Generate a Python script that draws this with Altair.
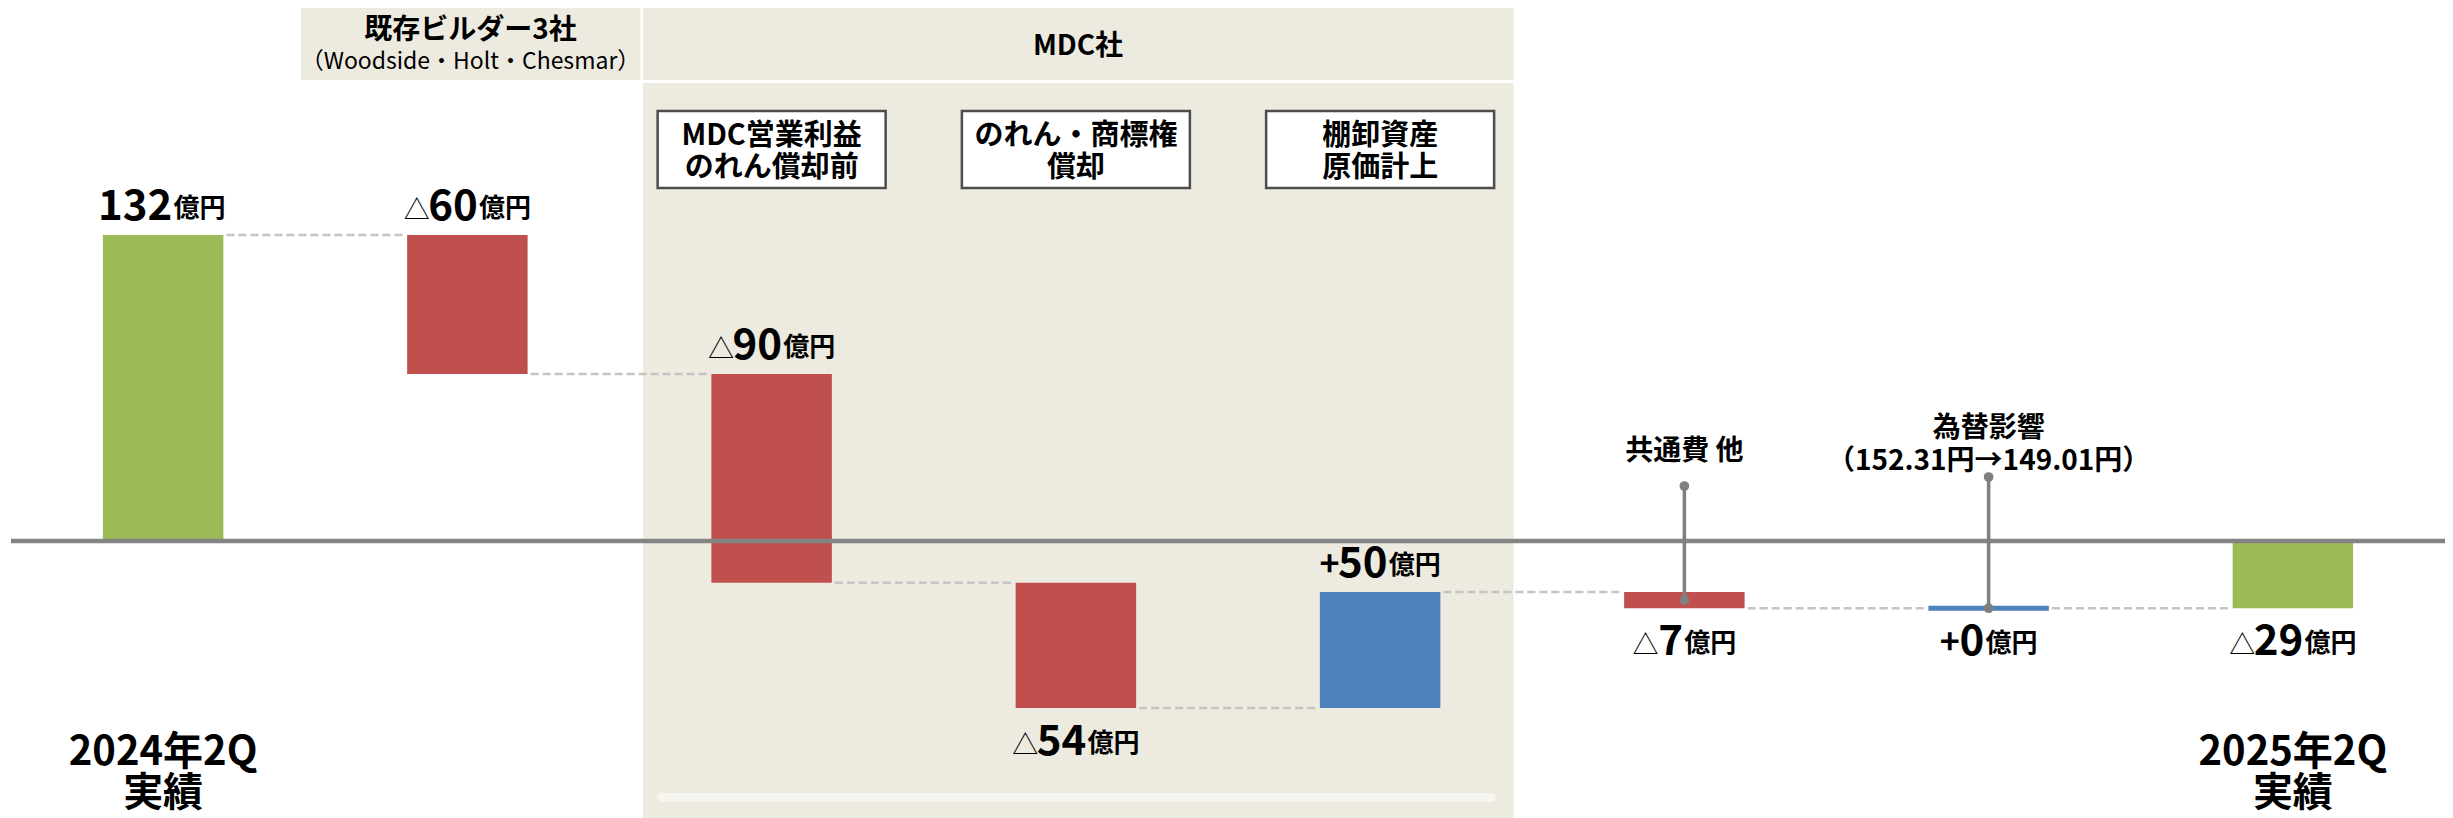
import altair as alt
import pandas as pd

# ---------------- data ----------------
steps = ["2024年2Q実績", "既存ビルダー3社", "MDC営業利益のれん償却前", "のれん・商標権償却",
         "棚卸資産原価計上", "共通費 他", "為替影響", "2025年2Q実績"]
values = [132, -60, -90, -54, 50, -7, 0, -29]
kinds = ["total", "delta", "delta", "delta", "delta", "delta", "delta", "total"]
sign_marks = ["", "△", "△", "△", "+", "△", "+", "△"]
label_sides = ["above", "above", "above", "below", "above", "below", "below", "below"]
unit_text = "億円"

bottom_label_steps = ["2024年2Q実績", "2025年2Q実績"]
bottom_label_texts = ["2024年2Q\n実績", "2025年2Q\n実績"]

box_steps = ["MDC営業利益のれん償却前", "のれん・商標権償却", "棚卸資産原価計上"]
box_texts = ["MDC営業利益\nのれん償却前", "のれん・商標権\n償却", "棚卸資産\n原価計上"]

pin_steps = ["共通費 他", "為替影響"]
pin_texts = ["共通費 他", "為替影響\n（152.31円→149.01円）"]

header_left_title = "既存ビルダー3社"
header_left_sub = "（Woodside・Holt・Chesmar）"
header_mdc = "MDC社"

# ---------------- derived ----------------
starts, ends = [], []
run = 0
for v, k in zip(values, kinds):
    if k == "total":
        s, e = 0, v
    else:
        s, e = run, run + v
    starts.append(s)
    ends.append(e)
    run = e

GREEN, RED, BLUE = "#9BBB59", "#C0504D", "#4F81BD"
colors = [GREEN if k == "total" else (RED if v < 0 else BLUE) for v, k in zip(values, kinds)]

df = pd.DataFrame({
    "idx": list(range(len(steps))),
    "step": steps,
    "value": values,
    "start": starts,
    "end": ends,
    "top": [max(s, e) for s, e in zip(starts, ends)],
    "bottom": [min(s, e) for s, e in zip(starts, ends)],
    "mid": [(s + e) / 2 for s, e in zip(starts, ends)],
    "color": colors,
    "num_txt": [str(abs(v)) for v in values],
    "sign": sign_marks,
    "side": label_sides,
})

conn = pd.DataFrame({
    "from": steps[:-1],
    "to": steps[1:],
    "level": ends[:-1],
})

one = pd.DataFrame({"k": [0]})
zero_df = pd.DataFrame({"zero": [0]})
bottom_df = pd.DataFrame({"step": bottom_label_steps, "txt": bottom_label_texts})
box_df = pd.DataFrame({"step": box_steps, "txt": box_texts})
pin_df = df[df["step"].isin(pin_steps)][["step", "mid"]].copy()
pin_df["txt"] = [pin_texts[pin_steps.index(s)] for s in pin_df["step"]]

# ---------------- layout / style ----------------
W, H = 2434, 810
FONT = "Noto Sans CJK JP"
BEIGE = "#EDEADF"
BAND_FRAC = 0.396
XS = alt.Scale(domain=steps, paddingInner=1 - BAND_FRAC, paddingOuter=(1 - BAND_FRAC) / 2)
YS = alt.Scale(domain=[-119.5, 229.94], nice=False, zero=False)
STEP = W / len(steps)
BW = STEP * BAND_FRAC


def X(field="step"):
    return alt.X(f"{field}:N", scale=XS, axis=None)


def Y(field):
    return alt.Y(f"{field}:Q", scale=YS, axis=None)


def px_rect(x, x2, y, y2, color, **kw):
    return alt.Chart(one).mark_rect(color=color, **kw).encode(
        x=alt.value(x), x2=alt.value(x2), y=alt.value(y), y2=alt.value(y2))


def px_text(txt, x, y, size, weight="bold"):
    return alt.Chart(one).mark_text(text=txt, font=FONT, fontSize=size, fontWeight=weight,
                                    align="center", baseline="alphabetic", color="black").encode(
        x=alt.value(x), y=alt.value(y))


layers = []

# backgrounds
layers.append(px_rect(290, 629.5, 0, 72, BEIGE))
layers.append(px_rect(632, 1502.5, 0, 72, BEIGE))
layers.append(px_rect(632, 1502.5, 75, 810, BEIGE))
layers.append(px_rect(646, 1485, 785, 794, "#F6F5F0", cornerRadius=5))

# header texts
layers.append(px_text(header_left_title, 459.5, 31, 28))
layers.append(px_text(header_left_sub, 459.5, 61, 23, weight="normal"))
layers.append(px_text(header_mdc, 1067, 47, 28))

# boxes
layers.append(alt.Chart(box_df).mark_bar(width=228, fill="white", stroke="#4D4D4D", strokeWidth=2.5).encode(
    x=X(), y=alt.value(103), y2=alt.value(180)))
layers.append(alt.Chart(box_df).mark_text(font=FONT, fontSize=29, fontWeight="bold", lineBreak="\n",
                                          lineHeight=32, baseline="alphabetic", color="black").encode(
    x=X(), y=alt.value(137), text="txt:N"))

# connectors
layers.append(alt.Chart(conn).mark_rule(strokeDash=[8, 4], strokeWidth=2.5, color="#C4C4C4",
                                        xOffset=BW / 2 + 3, x2Offset=-(BW / 2 + 1)).encode(
    x=X("from"), x2=alt.X2("to"), y=Y("level")))

# bars
layers.append(alt.Chart(df).mark_bar().encode(
    x=X(), y=Y("top"), y2=alt.Y2("bottom"), color=alt.Color("color:N", scale=None)))
layers.append(alt.Chart(df).transform_filter("datum.value == 0").mark_tick(
    size=BW, thickness=5, opacity=1).encode(
    x=X(), y=Y("end"), color=alt.Color("color:N", scale=None)))

# zero line
layers.append(alt.Chart(zero_df).mark_rule(color="#848484", strokeWidth=4.5).encode(y=Y("zero")))

# pins
PIN = "#7F7F7F"
pin_tops = {pin_steps[0]: 478, pin_steps[1]: 469}
pin_label_y = {pin_steps[0]: 452, pin_steps[1]: 429}
for s in pin_steps:
    base = alt.Chart(pin_df).transform_filter(alt.datum.step == s)
    layers.append(base.mark_rule(color=PIN, strokeWidth=3.5).encode(
        x=X(), y=Y("mid"), y2=alt.value(pin_tops[s])))
    layers.append(base.mark_point(filled=True, size=95, color=PIN, opacity=1).encode(
        x=X(), y=alt.value(pin_tops[s])))
    layers.append(base.mark_point(filled=True, size=95, color=PIN, opacity=1).encode(
        x=X(), y=Y("mid")))
    layers.append(base.mark_text(font=FONT, fontSize=28, fontWeight="bold", lineBreak="\n",
                                 lineHeight=33, baseline="alphabetic", color="black").encode(
        x=X(), y=alt.value(pin_label_y[s]), text="txt:N"))

# value labels (prefix + number + unit)
NUM_FS, UNIT_FS = 42, 26
DIGIT_W = 0.56 * NUM_FS
UNIT_W = 2 * UNIT_FS
PRE = {"△": dict(w=26, fs=26, weight="normal"), "+": dict(w=20, fs=34, weight="bold"), "": dict(w=0, fs=20, weight="bold")}
for i in range(len(steps)):
    num_w = len(df.loc[i, "num_txt"]) * DIGIT_W
    pre = PRE[df.loc[i, "sign"]]
    total = pre["w"] + num_w + UNIT_W
    a = -total / 2 + pre["w"] + num_w
    above = df.loc[i, "side"] == "above"
    yfield = "top" if above else "bottom"
    dy = -15 if above else 47
    base = alt.Chart(df).transform_filter(f"datum.idx == {i}")
    layers.append(base.mark_text(font=FONT, fontSize=NUM_FS, fontWeight="bold", align="right",
                                 baseline="alphabetic", dx=a, dy=dy, color="black").encode(
        x=X(), y=Y(yfield), text="num_txt:N"))
    layers.append(base.mark_text(font=FONT, fontSize=UNIT_FS, fontWeight="bold", align="left",
                                 baseline="alphabetic", dx=a + 1, dy=dy - 3, color="black",
                                 text=unit_text).encode(x=X(), y=Y(yfield)))
    if df.loc[i, "sign"]:
        layers.append(base.mark_text(font=FONT, fontSize=pre["fs"], fontWeight=pre["weight"], align="right",
                                     baseline="alphabetic", dx=a - num_w - 1, dy=dy - 1, color="black").encode(
            x=X(), y=Y(yfield), text="sign:N"))

# bottom labels
layers.append(alt.Chart(bottom_df).mark_text(font=FONT, fontSize=40, fontWeight="bold", lineBreak="\n",
                                             lineHeight=41, baseline="alphabetic", color="black").encode(
    x=X(), y=alt.value(757), text="txt:N"))

chart = alt.layer(*layers).properties(
    width=W, height=H,
    padding={"left": 3, "top": 0, "right": 0, "bottom": 0},
    autosize=alt.AutoSizeParams(type="none"),
    background="white",
).configure_view(strokeWidth=0)

chart.save("out.html", embed_options={"renderer": "svg", "actions": False})
